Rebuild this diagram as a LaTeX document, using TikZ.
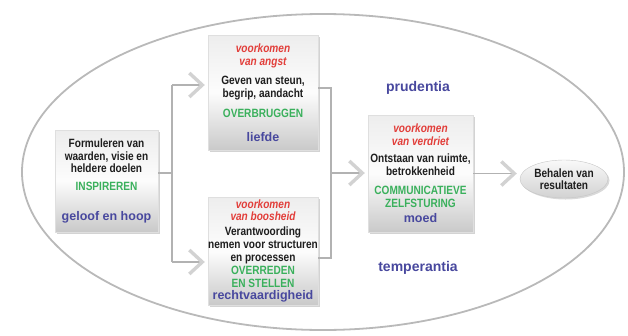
\documentclass[tikz,border=0pt]{standalone}
\usepackage{fontspec}
\setmainfont{Liberation Sans}[FakeStretch=0.84]
\newfontfamily\widefont{Liberation Sans}
\usepackage{xcolor}
\usetikzlibrary{positioning, arrows.meta, calc, shapes.geometric, shadows}

\definecolor{fearred}{RGB}{226,62,58}
\definecolor{skillgreen}{RGB}{58,176,92}
\definecolor{virtueblue}{RGB}{72,72,158}
\definecolor{inkgray}{RGB}{30,30,30}

% text switches for the lines inside a stage box
\newcommand{\fear}[1]{{\color{fearred}\bfseries\itshape #1}}
\newcommand{\skill}[1]{{\color{skillgreen}\bfseries #1}}
\newcommand{\virtue}[1]{{\widefont\bfseries\fontsize{12.5}{12.5}\selectfont\color{virtueblue}#1}}

\begin{document}
\begin{tikzpicture}[
  x=1pt, y=-1pt,
  every node/.style={font=\fontsize{12}{12.5}\selectfont\bfseries, text=inkgray},
  stage/.style={draw=gray!25, top color=gray!14, bottom color=gray!42, middle color=gray!2,
    align=center, inner sep=0pt,
    drop shadow={opacity=0.35, shadow xshift=1.5pt, shadow yshift=-1.5pt}},
  link/.style={draw=gray!60, line width=1.1pt},
  chev/.style={-{Straight Barb[length=13pt, width=24pt, line width=3.4pt, color=gray!35]}, shorten >=3pt},
  cardinal/.style={font=\widefont\bfseries\fontsize{14}{16}\selectfont, text=virtueblue}
]
\useasboundingbox (0,0) rectangle (628,335);

% ---------- Outer ellipse ----------
\draw[gray!55, line width=1.8pt] (323,172) ellipse [x radius=301, y radius=158];

% ---------- Stage boxes ----------
\node[stage, minimum width=103, minimum height=102] (box1) at (106.5,181) {%
  Formuleren van\\waarden, visie en\\heldere doelen\\[5pt]
  \skill{INSPIREREN}\\[18pt]
  \virtue{geloof en hoop}};

\node[stage, minimum width=110, minimum height=115] (box2) at (263,92.5) {%
  \fear{voorkomen}\\\fear{van angst}\\[7pt]
  Geven van steun,\\begrip, aandacht\\[8pt]
  \skill{OVERBRUGGEN}\\[11pt]
  \virtue{liefde}};

\node[stage, minimum width=110, minimum height=108] (box3) at (263,251) {%
  \fear{voorkomen}\\\fear{van boosheid}\\[2pt]
  Verantwoording\\[1pt]nemen voor structuren\\en processen\\[1pt]
  \skill{OVERREDEN}\\\skill{EN STELLEN}\\
  \virtue{rechtvaardigheid}};

\node[stage, minimum width=105, minimum height=117] (box4) at (420.5,173.5) {%
  \fear{voorkomen}\\\fear{van verdriet}\\[5pt]
  Ontstaan van ruimte,\\betrokkenheid\\[7pt]
  \skill{COMMUNICATIEVE}\\\skill{ZELFSTURING}\\[3pt]
  \virtue{moed}};

% ---------- Result ----------
\node[ellipse, draw=gray!45, top color=gray!5, bottom color=gray!35, inner sep=0pt,
      minimum width=88, minimum height=38, align=center,
      drop shadow={opacity=0.3, shadow xshift=1.5pt, shadow yshift=-1.5pt}]
  (res) at (564,179) {Behalen van\\resultaten};

% ---------- Cardinal virtues ----------
\node[cardinal] (prud) at (418,88) {prudentia};
\node[cardinal] (temp) at (418,268) {temperantia};

% ---------- Connectors ----------
\coordinate (fork1) at (172,173);
\coordinate (up1) at (172,85);
\coordinate (dn1) at (172,262);
\coordinate (fork2) at (331,173);
\coordinate (up2) at (331,88);
\coordinate (dn2) at (331,258);

\draw[link] (box1.east |- fork1) -- (fork1);
\draw[link] (up1) -- (dn1);
\draw[link, chev] (up1) -- (box2.west |- up1);
\draw[link, chev] (dn1) -- (box3.west |- dn1);

\draw[link] (box2.east |- up2) -- (up2) -- (dn2) -- (box3.east |- dn2);
\draw[link, chev] (fork2) -- (box4.west |- fork2);

\draw[link, chev] (box4.east) -- (box4.east -| res.west);

\end{tikzpicture}
\end{document}
